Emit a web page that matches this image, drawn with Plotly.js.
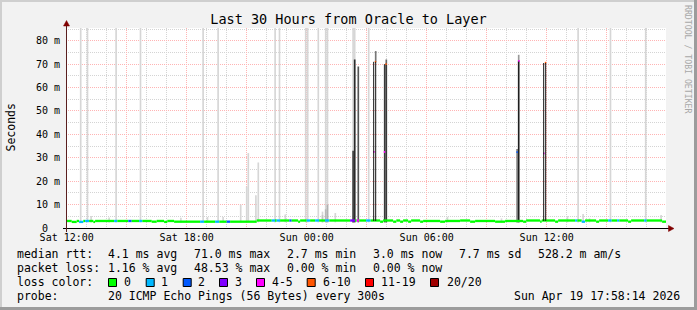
<!DOCTYPE html>
<html><head><meta charset="utf-8">
<script src="https://cdn.plot.ly/plotly-3.0.1.min.js"></script>
<style>html,body{margin:0;padding:0;background:#f2f2f2;overflow:hidden}#chart{width:697px;height:310px}</style>
</head><body><div id="chart"></div>
<script>
// ---------------- data ----------------
// x = hours since Sat 12:00 ; y = milliseconds
const xTickVals = [0, 3, 6, 9, 12, 15, 18, 21, 24, 27];
const xTickText = ["Sat 12:00", "", "Sat 18:00", "", "Sun 00:00", "", "Sun 06:00", "", "Sun 12:00", ""];
const yTickVals = [0, 10, 20, 30, 40, 50, 60, 70, 80];
const yTickText = ["0\u00a0\u00a0", "10 m", "20 m", "30 m", "40 m", "50 m", "60 m", "70 m", "80 m"];

const lossLabels = ["0", "1", "2", "3", "4-5", "6-10", "11-19", "20/20"];
const lossColors = ["#00ff00", "#00b8ff", "#0059ff", "#7f00ff", "#ff00ff", "#ff5500", "#ff0000", "#a00000"];

// median rtt runs: start hour, median (ms), loss colour index
const runStart = [-0.035, 0.25, 0.5, 0.62, 0.83, 0.92, 1.12, 1.33, 1.42, 2.37, 2.53, 3.08, 3.25, 3.62, 3.78, 4.25, 4.5, 4.87, 5.03, 5.37,
  6.67, 6.87, 7.42, 7.63, 8.0, 8.17, 9.5, 10.25, 10.42, 10.5, 10.67, 11.13, 11.25, 11.57, 11.67, 12.0, 12.17, 12.42, 12.62, 12.92,
  13.13, 14.17, 14.42, 14.5, 14.63, 14.97, 15.2, 15.67, 15.82, 16.32, 16.48, 16.67, 16.82, 17.07, 17.22, 17.67, 17.82, 18.67, 18.92, 19.67,
  20.17, 20.42, 21.42, 21.92, 22.82, 22.97, 23.67, 23.75, 24.42, 24.57, 25.42, 25.53, 25.75, 25.92, 26.47, 26.62, 27.07, 27.25, 27.52, 27.63,
  28.07, 28.22, 28.87, 29.0, 29.77];
const runValue = [3.0, 2.6, 3.0, 2.6, 3.0, 3.0, 3.0, 2.6, 3.0, 3.0, 3.0, 3.0, 3.0, 3.0, 3.0, 2.7, 3.0, 2.6, 3.0, 2.7,
  2.7, 2.7, 2.7, 2.7, 2.7, 2.7, 3.2, 3.2, 3.2, 3.2, 3.2, 3.2, 3.2, 2.7, 3.2, 3.2, 3.2, 3.2, 3.2, 3.2,
  3.2, 3.2, 3.2, 3.2, 3.2, 3.2, 3.2, 2.7, 3.2, 2.7, 3.2, 2.7, 3.2, 2.7, 3.2, 2.7, 3.0, 2.7, 3.0, 3.2,
  2.7, 3.0, 2.7, 3.0, 2.7, 3.2, 2.7, 3.2, 2.7, 3.2, 3.2, 3.2, 2.7, 3.2, 2.7, 3.2, 3.2, 3.2, 3.2, 3.2,
  2.7, 3.2, 3.2, 3.2, 2.7];
const runLoss = [0, 0, 0, 1, 0, 1, 0, 0, 0, 1, 0, 2, 0, 1, 0, 0, 0, 0, 0, 0,
  1, 0, 1, 0, 2, 0, 0, 1, 0, 1, 0, 2, 0, 0, 0, 1, 0, 1, 0, 1,
  0, 3, 0, 4, 0, 1, 0, 0, 0, 0, 0, 0, 0, 0, 0, 0, 0, 0, 0, 0,
  0, 0, 0, 0, 0, 0, 0, 0, 0, 0, 1, 0, 1, 0, 0, 0, 1, 0, 1, 0,
  0, 0, 1, 0, 0];
const endHour = 29.965;

// light smoke (outer ping spread): slot centre hour, low ms, high ms
const smokeT = [0.7, 1.04, 1.22, 2.12, 2.47, 3.69, 5.71, 6.82, 7.04, 7.57, 7.82, 8.7, 9.0, 9.08, 9.46, 9.58, 10.42, 10.64, 10.93,
  11.95, 12.05, 12.58, 12.79, 12.95, 13.04, 13.43, 14.32, 14.40, 15.1, 19.04, 21.74, 25.04, 25.57, 25.82, 26.14, 27.19, 28.95, 29.72];
const smokeLo = [2.4, 2.4, 2.4, 2.4, 2.4, 2.4, 2.4, 2.4, 2.4, 2.4, 2.4, 2.4, 2.4, 2.4, 2.4, 2.4, 2.4, 2.4, 2.4,
  2.4, 2.4, 2.4, 2.4, 2.4, 2.4, 2.4, 2.4, 2.4, 2.4, 2.4, 2.4, 2.4, 2.4, 2.4, 2.4, 2.4, 2.4, 2.4];
const smokeHi = [95, 95, 5.1, 4.5, 95, 95, 4.4, 95, 4.7, 95, 4.7, 10, 17.7, 32, 14, 28, 95, 95, 5.8,
  95, 95, 95, 7, 95, 95, 6.4, 95, 95, 95, 4.8, 4.1, 5.1, 95, 6, 4.1, 95, 95, 5.6];

// darker smoke (inner ping spread)
const darkT = [12.79, 12.95, 13.04, 14.32, 14.40, 14.58, 15.45, 15.90, 15.98, 15.98, 22.52, 22.60, 22.60];
const darkLo = [2.4, 2.4, 2.4, 2.4, 2.4, 2.4, 71, 2.4, 2.4, 70, 2.4, 2.4, 71.5];
const darkHi = [5.5, 8, 10, 33, 72, 69, 75.6, 70, 70, 72, 33.8, 71.5, 74];
const darkShade = ["#c4c4c4", "#b8b8b8", "#b0b0b0", "#404040", "#2b2b2b", "#555555", "#777777", "#3a3a3a", "#3a3a3a", "#666666", "#808080", "#1e1e1e", "#999999"];

// thin black spike lines: hour, low ms, high ms
const lineT = [15.35, 15.45, 23.85, 23.95];
const lineLo = [3, 3, 3, 3];
const lineHi = [71, 71, 70.5, 70.5];

// median at spike tops: hour, ms, loss colour index
const peakT = [15.36, 15.44, 15.89, 15.97, 22.52, 22.61, 23.86, 23.94];
const peakV = [32.5, 71, 32.5, 70, 32.4, 71.4, 31.9, 70.6];
const peakLoss = [4, 5, 4, 5, 2, 4, 4, 5];

const titleText = "Last 30 Hours from Oracle to Layer";
const yTitle = "Seconds";
const statRows = [
  ["median rtt:", "4.1 ms avg", "71.0 ms max", "2.7 ms min", "3.0 ms now", "7.7 ms sd", "528.2 m am/s"],
  ["packet loss:", "1.16 % avg", "48.53 % max", "0.00 % min", "0.00 % now"]
];
const lossRowLabel = "loss color:";
const probeLabel = "probe:";
const probeText = "20 ICMP Echo Pings (56 Bytes) every 300s";
const dateText = "Sun Apr 19 17:58:14 2026";
const sideText = "RRDTOOL / TOBI OETIKER";

// ---------------- layout geometry ----------------
const FONT = "DejaVu Sans Mono";
const L = 66, T = 28, W = 600, H = 200;
const px = x => (x - L) / W;
const py = y => (T + H - y) / H;
const SLOT = 1 / 12;

const traces = [];
traces.push({type: "bar", x: smokeT, base: smokeLo, y: smokeHi.map((h, i) => h - smokeLo[i]),
  width: SLOT, marker: {color: "#d6d6d6", line: {width: 0}}, hoverinfo: "skip"});
traces.push({type: "bar", x: darkT, base: darkLo, y: darkHi.map((h, i) => h - darkLo[i]),
  width: SLOT, marker: {color: darkShade, line: {width: 0}}, hoverinfo: "skip"});
const runEnd = runStart.slice(1).concat([endHour]);
traces.push({type: "bar", x: runStart.map((s, i) => (s + runEnd[i]) / 2), width: runStart.map((s, i) => runEnd[i] - s),
  base: runValue.map(v => v - 0.5), y: runValue.map(() => 1.0),
  marker: {color: runLoss.map(l => lossColors[l]), line: {width: 0}}, hoverinfo: "skip"});
traces.push({type: "bar", x: peakT, base: peakV.map(v => v - 0.4), y: peakV.map(() => 0.8), width: 0.07,
  marker: {color: peakLoss.map(l => lossColors[l]), line: {width: 0}}, hoverinfo: "skip"});
const lx = [], ly = [];
lineT.forEach((t, i) => { lx.push(t, t, null); ly.push(lineLo[i], lineHi[i], null); });
traces.push({type: "scatter", mode: "lines", x: lx, y: ly, line: {color: "#111111", width: 1}, hoverinfo: "skip", connectgaps: false});

const annotations = [];
function txt(text, x, y, opts) {
  annotations.push(Object.assign({text: text, x: px(x), y: py(y), xref: "paper", yref: "paper", showarrow: false,
    xanchor: "left", yanchor: "middle", font: {family: FONT, size: 11.5, color: "#000"}}, opts || {}));
}
const colX = [16, 107.3, 193.3, 286.7, 372.3, 458.3, 537.3];
const rowY = [254, 268];
statRows.forEach((row, r) => row.forEach((s, c) => txt(s, colX[c] - 1.5, rowY[r])));
txt(lossRowLabel, 14.5, 282);
txt(probeLabel, 14.5, 296);
txt(probeText, 105.8, 296);
txt(dateText, 511.8, 296);
const boxX = [108, 145.7, 182.7, 219, 256, 306.7, 365, 430];
const labX = [123.3, 160.7, 197.7, 234, 271, 322, 380.7, 446];
const shapes = [];
lossLabels.forEach((lab, i) => {
  txt(lab, labX[i] - 1.5, 282);
  shapes.push({type: "rect", xref: "paper", yref: "paper", x0: px(boxX[i] + 0.5), x1: px(boxX[i] + 8.5), y0: py(278.5), y1: py(286.5),
    fillcolor: lossColors[i], line: {color: "#000", width: 1}});
});
annotations.push({text: yTitle, x: px(10.5), y: py(128), xref: "paper", yref: "paper", showarrow: false, textangle: -90,
  xanchor: "center", yanchor: "middle", font: {family: FONT, size: 11.5, color: "#000"}});
annotations.push({text: sideText, x: px(688), y: py(59), xref: "paper", yref: "paper", showarrow: false, textangle: 90,
  xanchor: "center", yanchor: "middle", font: {family: FONT, size: 8.2, color: "#a8a8a8"}});

shapes.push({type: "rect", xref: "paper", yref: "paper", x0: px(0), x1: px(697), y0: py(0), y1: py(2), fillcolor: "#cfcfcf", line: {width: 0}});
shapes.push({type: "rect", xref: "paper", yref: "paper", x0: px(0), x1: px(2), y0: py(0), y1: py(310), fillcolor: "#cfcfcf", line: {width: 0}});
shapes.push({type: "rect", xref: "paper", yref: "paper", x0: px(0), x1: px(697), y0: py(307), y1: py(310), fillcolor: "#9c9c9c", line: {width: 0}});
shapes.push({type: "rect", xref: "paper", yref: "paper", x0: px(694), x1: px(697), y0: py(0), y1: py(310), fillcolor: "#9c9c9c", line: {width: 0}});
shapes.push({type: "line", xref: "paper", yref: "paper", x0: px(63), x1: px(669), y0: py(228.5), y1: py(228.5), line: {color: "#000", width: 1}});
shapes.push({type: "path", xref: "paper", yref: "paper",
  path: `M ${px(674)} ${py(228.5)} L ${px(668.5)} ${py(225.5)} L ${px(668.5)} ${py(231.5)} Z`, fillcolor: "#800000", line: {color: "#800000", width: 0.5}});
shapes.push({type: "line", xref: "paper", yref: "paper", x0: px(66.5), x1: px(66.5), y0: py(232), y1: py(25), line: {color: "#5b1f1f", width: 1}});
shapes.push({type: "path", xref: "paper", yref: "paper",
  path: `M ${px(66.5)} ${py(20.5)} L ${px(63.5)} ${py(26)} L ${px(69.5)} ${py(26)} Z`, fillcolor: "#800000", line: {color: "#800000", width: 0.5}});

const layout = {
  width: 697, height: 310,
  margin: {l: L, r: 697 - L - W, t: T, b: 310 - T - H, pad: 0},
  paper_bgcolor: "#f2f2f2", plot_bgcolor: "#ffffff",
  showlegend: false, barmode: "overlay", hovermode: false,
  title: {text: titleText, x: 0.5, xanchor: "center", y: 1 - 19 / 310, yanchor: "middle",
    font: {family: FONT, size: 13.5, color: "#000"}},
  xaxis: {range: [-0.035, 29.965], tickmode: "array", tickvals: xTickVals, ticktext: xTickText,
    showgrid: true, gridcolor: "#ffb4b4", griddash: "1px,1px", gridwidth: 1, zeroline: false, showline: false, ticks: "",
    tickfont: {family: FONT, size: 10, color: "#000"}, ticklabelstandoff: 2,
    minor: {tickmode: "linear", tick0: 0, dtick: 1, showgrid: true, gridcolor: "#d4d4d4", griddash: "1px,1px", gridwidth: 1, ticks: ""}},
  yaxis: {range: [0, 85.45], tickmode: "array", tickvals: yTickVals, ticktext: yTickText,
    showgrid: true, gridcolor: "#ffb4b4", griddash: "1px,1px", gridwidth: 1, zeroline: false, showline: false, ticks: "",
    tickfont: {family: FONT, size: 10, color: "#000"}, ticklabelstandoff: 5,
    minor: {tickmode: "linear", tick0: 0, dtick: 5, showgrid: true, gridcolor: "#d4d4d4", griddash: "1px,1px", gridwidth: 1, ticks: ""}},
  annotations: annotations, shapes: shapes
};
Plotly.newPlot("chart", traces, layout, {staticPlot: true, displayModeBar: false});
</script></body></html>
